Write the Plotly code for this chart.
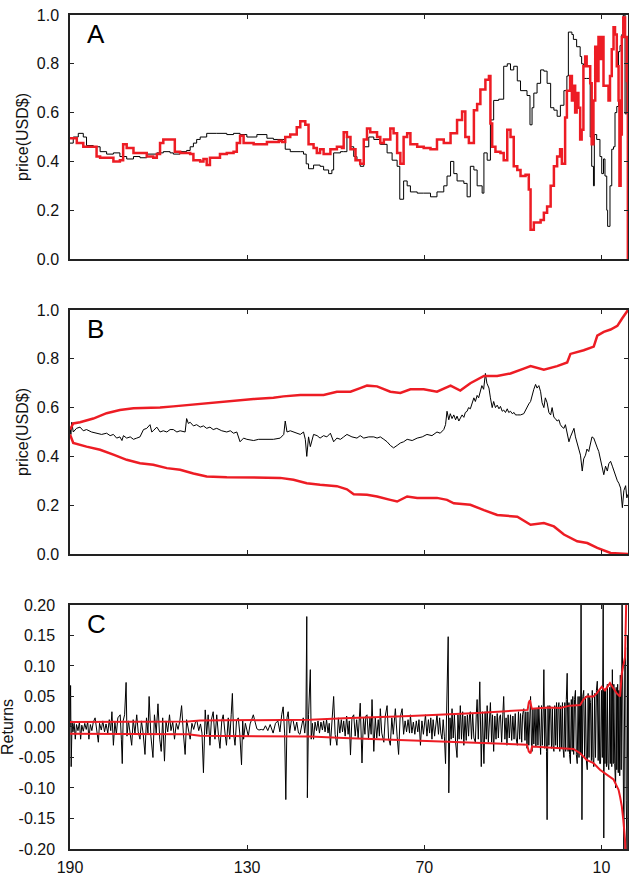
import plotly.graph_objects as go
from plotly.subplots import make_subplots

RED = "#ED1C24"
FONT = "Liberation Sans, Arial, sans-serif"

# ---------------- tick labels ----------------
x_tickvals = [190, 130, 70, 10]
x_ticktext = ["190", "130", "70", "10"]
price_tickvals = [0.0, 0.2, 0.4, 0.6, 0.8, 1.0]
price_ticktext = ["0.0", "0.2", "0.4", "0.6", "0.8", "1.0"]
ret_tickvals = [-0.2, -0.15, -0.1, -0.05, 0.0, 0.05, 0.1, 0.15, 0.2]
ret_ticktext = ["-0.20", "-0.15", "-0.10", "-0.05", "0.00", "0.05", "0.10", "0.15", "0.20"]
panel_labels = ["A", "B", "C"]
y_titles = ["price(USD$)", "price(USD$)", "Returns"]

# ---------------- Panel A: two prices (day, price) ----------------
a_black = [
    (190.0, 0.475), (188.9, 0.50), (187.2, 0.515), (185.5, 0.50), (184.4, 0.465), (182.1, 0.46),
    (179.8, 0.44), (177.6, 0.43), (175.3, 0.435), (173.1, 0.42), (170.8, 0.41), (168.5, 0.42),
    (166.3, 0.415), (164.0, 0.43), (160.6, 0.435), (158.4, 0.44), (156.1, 0.435), (155.0, 0.43),
    (152.7, 0.44), (150.5, 0.445), (149.3, 0.46), (148.2, 0.475), (147.1, 0.49), (145.9, 0.50),
    (143.7, 0.515), (140.3, 0.515), (136.9, 0.51), (134.6, 0.515), (132.4, 0.51), (130.1, 0.50),
    (126.7, 0.51), (123.3, 0.495), (121.1, 0.49), (118.2, 0.49), (117.1, 0.45), (115.4, 0.44),
    (112.0, 0.44), (110.9, 0.43), (110.0, 0.39), (109.2, 0.37), (107.5, 0.385), (105.3, 0.38),
    (104.1, 0.365), (102.4, 0.35), (101.3, 0.365), (100.7, 0.435), (98.4, 0.44), (97.3, 0.44),
    (96.2, 0.50), (95.0, 0.46), (93.9, 0.42), (92.8, 0.405), (91.7, 0.38), (90.5, 0.46),
    (88.8, 0.50), (87.1, 0.49), (84.9, 0.47), (82.6, 0.435), (80.9, 0.405), (79.2, 0.38),
    (78.3, 0.245), (77.0, 0.32), (75.8, 0.30), (74.7, 0.275), (72.4, 0.27), (70.2, 0.27),
    (67.9, 0.255), (65.7, 0.275), (63.4, 0.30), (62.3, 0.34), (61.1, 0.40), (60.0, 0.35),
    (58.9, 0.32), (56.6, 0.31), (55.5, 0.255), (54.4, 0.38), (53.2, 0.365), (52.1, 0.30),
    (50.4, 0.27), (49.8, 0.435), (48.7, 0.405), (47.6, 0.57), (46.5, 0.65), (44.8, 0.655),
    (43.1, 0.79), (41.9, 0.80), (40.8, 0.775), (39.7, 0.79), (38.5, 0.73), (37.4, 0.69),
    (35.2, 0.67), (34.2, 0.55), (33.5, 0.62), (32.9, 0.68), (31.8, 0.72), (30.6, 0.775),
    (29.5, 0.77), (28.4, 0.72), (27.2, 0.62), (26.1, 0.61), (25.0, 0.585), (23.9, 0.63),
    (22.7, 0.69), (21.7, 0.75), (21.2, 0.93), (20.0, 0.92), (19.5, 0.90), (18.4, 0.87),
    (17.2, 0.83), (16.7, 0.80), (16.1, 0.74), (15.0, 0.74), (13.8, 0.50), (13.3, 0.38),
    (12.7, 0.30), (12.4, 0.51), (11.6, 0.49), (10.5, 0.42), (9.9, 0.35), (9.3, 0.41),
    (8.8, 0.34), (8.2, 0.20), (7.9, 0.134), (7.1, 0.30), (6.5, 0.45), (5.9, 0.46),
    (5.4, 0.60), (4.8, 0.625), (4.2, 0.85), (3.7, 0.875), (3.1, 0.92), (2.6, 1.0),
    (2.0, 0.595), (1.4, 0.79), (1.0, 0.88),
]
a_red = [
    (190.0, 0.495), (187.7, 0.475), (185.5, 0.46), (182.1, 0.46), (181.0, 0.42), (179.8, 0.415),
    (176.4, 0.415), (175.3, 0.40), (173.1, 0.405), (172.0, 0.47), (170.8, 0.455), (168.5, 0.435),
    (166.3, 0.435), (164.0, 0.42), (161.8, 0.415), (160.6, 0.43), (159.5, 0.475), (158.4, 0.49),
    (155.0, 0.49), (154.5, 0.44), (152.7, 0.435), (150.5, 0.435), (149.3, 0.43), (148.2, 0.405),
    (145.9, 0.40), (144.8, 0.41), (143.7, 0.385), (142.6, 0.415), (140.3, 0.415), (139.2, 0.43),
    (136.9, 0.435), (134.6, 0.44), (133.5, 0.475), (132.4, 0.505), (131.2, 0.475), (127.8, 0.47),
    (124.4, 0.47), (123.3, 0.48), (119.3, 0.485), (118.2, 0.48), (117.1, 0.50), (115.4, 0.51),
    (113.2, 0.54), (112.0, 0.565), (110.3, 0.55), (109.2, 0.47), (107.5, 0.455), (106.4, 0.435),
    (105.3, 0.45), (104.1, 0.43), (101.8, 0.45), (99.6, 0.46), (97.9, 0.455), (97.3, 0.52),
    (96.2, 0.50), (95.0, 0.45), (93.3, 0.405), (91.7, 0.39), (90.5, 0.49), (89.4, 0.535),
    (88.3, 0.52), (86.0, 0.50), (84.9, 0.475), (83.7, 0.49), (81.5, 0.535), (80.4, 0.515),
    (79.2, 0.435), (78.1, 0.39), (77.0, 0.50), (75.8, 0.515), (74.7, 0.47), (72.4, 0.46),
    (70.2, 0.455), (67.9, 0.45), (65.7, 0.49), (63.4, 0.475), (61.1, 0.515), (58.9, 0.57),
    (57.2, 0.605), (56.1, 0.50), (54.9, 0.475), (53.2, 0.61), (52.1, 0.635), (51.0, 0.695),
    (49.3, 0.735), (48.1, 0.75), (47.6, 0.555), (47.0, 0.46), (45.9, 0.44), (44.2, 0.435),
    (43.1, 0.405), (41.9, 0.53), (40.8, 0.50), (39.7, 0.38), (38.5, 0.365), (37.4, 0.34),
    (35.7, 0.345), (34.6, 0.285), (34.0, 0.12), (32.9, 0.15), (30.6, 0.16), (29.5, 0.19),
    (28.4, 0.215), (27.2, 0.30), (26.1, 0.38), (25.0, 0.42), (24.0, 0.45), (23.4, 0.39),
    (22.3, 0.58), (21.7, 0.69), (20.6, 0.75), (20.0, 0.65), (19.5, 0.71), (18.9, 0.60),
    (18.4, 0.68), (17.8, 0.62), (17.2, 0.49), (16.7, 0.53), (16.1, 0.79), (15.5, 0.83),
    (15.0, 0.79), (13.8, 0.72), (13.3, 0.47), (12.7, 0.65), (12.1, 0.87), (11.6, 0.73),
    (11.0, 0.91), (10.5, 0.82), (9.9, 0.91), (9.3, 0.71), (8.2, 0.71), (7.6, 0.65),
    (7.1, 0.75), (6.5, 0.86), (5.9, 0.95), (5.4, 0.92), (4.8, 0.79), (4.2, 0.65),
    (3.9, 0.30), (3.5, 0.51), (3.1, 0.91), (2.6, 0.99), (2.0, 0.91), (1.4, 0.73), (1.05, 0.0),
]

# ---------------- Panel B: price with bands (day, value) ----------------
b_black = [
    (190.0, 0.52), (189.7, 0.49), (189.4, 0.54), (188.9, 0.50), (187.8, 0.515), (186.6, 0.52),
    (185.5, 0.505), (184.4, 0.51), (182.7, 0.50), (181.0, 0.495), (179.3, 0.49), (177.6, 0.495),
    (176.4, 0.485), (175.3, 0.49), (174.2, 0.475), (173.1, 0.48), (172.4, 0.465), (171.9, 0.485),
    (170.8, 0.475), (169.6, 0.48), (168.5, 0.47), (167.4, 0.475), (166.3, 0.48), (165.1, 0.51),
    (164.0, 0.515), (162.9, 0.53), (162.3, 0.50), (161.8, 0.505), (160.6, 0.52), (159.5, 0.50),
    (158.4, 0.505), (157.2, 0.50), (156.1, 0.51), (155.0, 0.51), (153.8, 0.50), (152.7, 0.505),
    (151.0, 0.50), (150.5, 0.555), (149.9, 0.535), (149.3, 0.54), (148.2, 0.525), (147.1, 0.53),
    (145.9, 0.52), (144.8, 0.525), (143.7, 0.515), (142.6, 0.52), (141.5, 0.51), (140.3, 0.515),
    (138.6, 0.505), (136.9, 0.50), (135.7, 0.505), (134.6, 0.495), (133.5, 0.50), (132.4, 0.46),
    (131.2, 0.475), (130.1, 0.47), (127.8, 0.465), (126.1, 0.47), (124.4, 0.47), (122.7, 0.468),
    (121.1, 0.47), (118.8, 0.475), (117.6, 0.49), (117.1, 0.545), (116.5, 0.50), (115.4, 0.505),
    (114.3, 0.50), (113.2, 0.495), (112.0, 0.49), (110.9, 0.50), (110.3, 0.47), (109.8, 0.40),
    (109.2, 0.48), (108.6, 0.44), (107.5, 0.49), (106.3, 0.485), (105.3, 0.475), (104.1, 0.485),
    (103.0, 0.48), (101.8, 0.495), (100.7, 0.46), (99.6, 0.475), (98.4, 0.47), (97.3, 0.48),
    (96.2, 0.49), (94.5, 0.48), (92.8, 0.475), (91.7, 0.485), (90.5, 0.475), (88.8, 0.48),
    (87.1, 0.48), (86.0, 0.475), (84.9, 0.48), (83.7, 0.47), (82.6, 0.46), (81.5, 0.445),
    (80.4, 0.435), (79.2, 0.445), (78.1, 0.455), (77.0, 0.46), (75.8, 0.47), (74.1, 0.465),
    (72.4, 0.475), (70.7, 0.48), (69.1, 0.49), (67.4, 0.485), (65.7, 0.50), (64.6, 0.495),
    (63.4, 0.51), (62.8, 0.53), (62.3, 0.585), (61.7, 0.55), (61.2, 0.575), (60.6, 0.555),
    (60.0, 0.57), (59.4, 0.55), (58.9, 0.565), (58.3, 0.545), (57.8, 0.555), (57.2, 0.57),
    (56.6, 0.56), (56.1, 0.58), (55.5, 0.585), (55.0, 0.60), (54.4, 0.595), (53.8, 0.62),
    (53.2, 0.64), (52.7, 0.625), (52.1, 0.65), (51.6, 0.64), (51.0, 0.665), (50.5, 0.69),
    (49.9, 0.675), (49.3, 0.74), (48.8, 0.70), (48.1, 0.68), (47.6, 0.64), (47.0, 0.60),
    (46.5, 0.625), (45.9, 0.60), (45.3, 0.61), (44.7, 0.595), (44.2, 0.605), (43.6, 0.585),
    (43.1, 0.59), (42.5, 0.58), (41.9, 0.595), (41.4, 0.58), (40.8, 0.585), (40.2, 0.575),
    (39.6, 0.58), (39.1, 0.57), (38.5, 0.57), (37.4, 0.57), (36.3, 0.575), (35.7, 0.59),
    (35.2, 0.60), (34.6, 0.615), (34.0, 0.625), (33.5, 0.65), (32.9, 0.675), (32.3, 0.695),
    (31.8, 0.68), (31.2, 0.69), (30.6, 0.665), (30.1, 0.62), (29.5, 0.60), (29.0, 0.64),
    (28.4, 0.62), (27.8, 0.58), (27.2, 0.57), (26.7, 0.60), (26.1, 0.56), (25.6, 0.555),
    (25.0, 0.545), (24.4, 0.55), (23.9, 0.53), (23.3, 0.52), (22.7, 0.515), (22.2, 0.53),
    (21.6, 0.49), (21.0, 0.46), (20.5, 0.48), (19.9, 0.50), (19.3, 0.515), (18.8, 0.48),
    (18.2, 0.45), (17.6, 0.43), (17.1, 0.405), (16.5, 0.34), (16.0, 0.39), (15.4, 0.405),
    (14.9, 0.43), (14.3, 0.42), (13.7, 0.45), (13.2, 0.48), (12.6, 0.475), (12.0, 0.45),
    (11.4, 0.435), (10.9, 0.42), (10.3, 0.39), (9.8, 0.36), (9.2, 0.325), (8.6, 0.36),
    (8.0, 0.34), (7.5, 0.37), (6.9, 0.38), (6.3, 0.36), (5.8, 0.34), (5.2, 0.32),
    (4.6, 0.30), (4.1, 0.29), (3.5, 0.27), (2.9, 0.19), (2.4, 0.26), (1.8, 0.28),
    (1.4, 0.23), (1.0, 0.245),
]
b_upper = [
    (190.0, 0.51), (188.9, 0.535), (186.6, 0.54), (182.1, 0.555), (177.6, 0.577), (173.1, 0.59),
    (168.5, 0.597), (164.0, 0.598), (159.5, 0.60), (155.0, 0.605), (150.5, 0.61), (146.0, 0.617),
    (139.2, 0.625), (134.6, 0.63), (127.8, 0.635), (121.1, 0.64), (117.7, 0.646), (112.0, 0.652),
    (104.1, 0.652), (99.6, 0.665), (95.0, 0.665), (91.7, 0.68), (89.4, 0.69), (86.0, 0.687),
    (81.5, 0.665), (78.1, 0.66), (74.7, 0.675), (70.2, 0.675), (65.7, 0.665), (61.1, 0.69),
    (57.8, 0.67), (54.4, 0.70), (49.8, 0.73), (45.3, 0.73), (40.8, 0.74), (36.3, 0.76),
    (34.0, 0.77), (29.5, 0.755), (25.0, 0.77), (21.6, 0.785), (20.5, 0.82), (16.0, 0.835),
    (12.6, 0.85), (11.4, 0.895), (9.2, 0.91), (6.9, 0.92), (4.6, 0.935), (3.0, 0.965), (1.0, 1.0),
]
b_lower = [
    (190.0, 0.49), (188.9, 0.455), (184.4, 0.44), (179.8, 0.427), (175.3, 0.407), (170.8, 0.386),
    (166.3, 0.372), (161.8, 0.366), (157.2, 0.352), (152.7, 0.345), (148.2, 0.33), (143.7, 0.318),
    (136.9, 0.315), (130.1, 0.315), (123.3, 0.315), (118.8, 0.312), (114.3, 0.304), (109.8, 0.29),
    (105.3, 0.284), (99.6, 0.278), (96.2, 0.265), (93.9, 0.245), (89.4, 0.243), (86.0, 0.236),
    (81.5, 0.222), (79.2, 0.215), (75.8, 0.236), (72.4, 0.23), (65.7, 0.23), (62.3, 0.222),
    (60.0, 0.208), (54.4, 0.202), (49.8, 0.18), (45.3, 0.16), (38.5, 0.153), (34.0, 0.12),
    (29.5, 0.127), (26.1, 0.113), (22.7, 0.08), (18.2, 0.052), (14.8, 0.045), (11.4, 0.025),
    (6.9, 0.004), (1.0, 0.0),
]

# ---------------- Panel C: returns with bands (day, return) ----------------
c_returns = [
    (190.0, 0.0), (189.8, 0.068), (189.6, -0.065), (189.3, 0.01), (189.0, -0.008), (188.6, 0.006),
    (188.2, -0.02), (187.8, 0.004), (187.3, -0.006), (186.8, 0.008), (186.4, -0.02), (186.0, 0.003),
    (185.5, -0.007), (185.0, 0.006), (184.5, -0.004), (184.0, 0.009), (183.6, -0.02), (183.1, 0.004),
    (182.6, -0.006), (182.1, 0.008), (181.5, 0.015), (181.0, -0.004), (180.4, -0.025), (180.0, 0.006),
    (179.4, -0.005), (178.9, 0.01), (178.3, -0.008), (177.8, 0.005), (177.2, -0.01), (176.7, 0.012),
    (176.2, -0.006), (175.8, 0.025), (175.3, -0.03), (174.8, 0.008), (174.3, -0.012), (173.8, 0.015),
    (173.0, 0.02), (172.6, -0.02), (172.3, -0.06), (172.0, 0.01), (171.5, 0.02), (171.0, 0.073),
    (170.7, -0.015), (170.2, 0.01), (169.6, -0.008), (169.1, -0.03), (168.6, 0.012), (168.0, -0.01),
    (167.4, 0.02), (166.9, -0.008), (166.3, -0.02), (165.8, 0.01), (165.2, -0.012), (164.6, -0.045),
    (164.1, 0.015), (163.6, -0.01), (163.2, 0.05), (162.6, -0.015), (161.9, -0.05), (161.4, 0.02),
    (160.8, -0.01), (160.2, 0.038), (159.6, -0.02), (159.1, -0.04), (158.6, 0.015), (158.0, -0.056),
    (157.5, 0.01), (156.9, -0.008), (156.3, 0.02), (155.8, -0.006), (155.2, 0.008), (154.6, -0.02),
    (154.0, 0.006), (153.4, -0.004), (152.8, 0.01), (152.2, 0.035), (151.6, -0.01), (151.0, -0.045),
    (150.5, 0.012), (149.9, -0.006), (149.3, -0.02), (148.7, 0.006), (148.1, -0.004), (147.5, 0.008),
    (147.0, 0.01), (146.4, -0.006), (145.8, 0.005), (145.3, -0.01), (144.8, -0.075), (144.2, 0.028),
    (143.7, -0.012), (143.2, 0.02), (142.6, -0.03), (142.1, 0.012), (141.5, 0.025), (140.9, -0.02),
    (140.3, 0.02), (139.7, -0.015), (139.2, -0.035), (138.6, 0.01), (138.1, 0.02), (137.5, -0.01),
    (137.0, -0.03), (136.4, 0.015), (135.9, -0.02), (135.4, 0.02), (135.0, 0.055), (134.6, -0.01),
    (134.1, -0.03), (133.6, 0.01), (133.0, 0.015), (132.5, -0.01), (131.9, -0.062), (131.5, 0.01),
    (131.2, -0.02), (130.6, 0.006), (130.0, -0.004), (129.6, -0.015), (129.0, 0.005), (128.4, 0.012),
    (127.9, 0.02), (127.3, 0.008), (126.7, -0.003), (126.0, -0.005), (125.2, -0.004), (124.5, -0.005),
    (123.8, 0.002), (123.0, -0.006), (122.2, 0.004), (121.2, -0.01), (120.4, 0.006), (119.6, 0.01),
    (118.9, -0.008), (118.3, 0.02), (117.8, 0.033), (117.3, -0.01), (116.9, -0.119), (116.5, 0.015),
    (116.1, 0.025), (115.6, -0.01), (115.0, 0.012), (114.4, 0.01), (113.8, -0.006), (113.2, 0.008),
    (112.6, -0.01), (112.1, -0.012), (111.5, 0.006), (111.0, 0.015), (110.5, -0.01), (110.1, 0.01),
    (109.8, 0.181), (109.6, -0.116), (109.2, 0.02), (108.6, 0.094), (108.3, -0.02), (107.9, 0.006),
    (107.5, -0.02), (107.0, 0.008), (106.5, -0.006), (106.0, 0.01), (105.5, -0.01), (105.0, 0.008),
    (104.5, -0.005), (104.1, 0.01), (103.6, -0.008), (103.1, 0.012), (102.6, -0.01), (102.2, 0.006),
    (101.8, -0.03), (101.3, 0.012), (100.7, 0.05), (100.2, -0.012), (99.6, -0.03), (99.1, 0.015),
    (98.6, -0.01), (98.1, 0.012), (97.7, -0.008), (97.3, 0.01), (96.8, -0.015), (96.3, 0.018),
    (95.8, -0.012), (95.4, 0.01), (95.0, -0.046), (94.5, 0.015), (93.9, 0.02), (93.4, -0.015),
    (92.9, 0.012), (92.4, -0.018), (92.0, 0.015), (91.7, 0.039), (91.1, -0.059), (90.6, 0.015),
    (90.1, -0.012), (89.8, 0.018), (89.4, 0.02), (88.9, -0.02), (88.4, 0.015), (88.0, -0.012),
    (87.7, 0.045), (87.1, -0.04), (86.6, 0.015), (86.1, -0.018), (85.6, 0.012), (85.2, -0.015),
    (84.9, 0.03), (84.4, -0.01), (83.7, -0.025), (83.2, 0.018), (82.6, 0.035), (82.1, -0.018),
    (81.5, -0.03), (81.0, 0.015), (80.5, -0.012), (80.1, 0.018), (79.8, 0.03), (79.2, -0.015),
    (78.7, -0.045), (78.2, 0.015), (77.5, 0.03), (77.0, -0.012), (76.5, 0.01), (76.0, -0.008),
    (75.5, 0.012), (75.0, -0.01), (74.7, 0.02), (74.2, -0.01), (73.7, 0.008), (73.2, -0.012),
    (72.7, 0.01), (72.2, -0.008), (71.8, 0.012), (71.3, -0.03), (70.8, 0.01), (70.3, -0.012),
    (69.9, 0.015), (69.6, 0.02), (69.1, -0.015), (68.6, 0.012), (68.2, -0.01), (67.8, 0.015),
    (67.4, -0.02), (67.0, 0.012), (66.5, -0.015), (66.1, 0.01), (65.7, 0.02), (65.2, -0.012),
    (64.8, 0.015), (64.4, -0.01), (64.0, -0.02), (63.6, 0.012), (63.2, -0.015), (62.8, -0.06),
    (62.4, 0.02), (61.9, 0.148), (61.7, -0.108), (61.3, 0.015), (60.9, -0.02), (60.6, 0.03),
    (60.2, -0.018), (59.8, 0.02), (59.4, -0.025), (58.9, -0.05), (58.6, 0.02), (58.2, -0.02),
    (57.8, 0.035), (57.4, -0.02), (57.0, 0.025), (56.6, -0.03), (56.2, 0.018), (55.8, -0.022),
    (55.4, 0.02), (55.0, -0.015), (54.7, 0.018), (54.4, 0.025), (54.0, -0.02), (53.6, 0.022),
    (53.2, -0.018), (52.7, -0.025), (52.4, 0.02), (52.1, 0.045), (51.7, -0.02), (51.2, 0.074),
    (50.7, -0.065), (50.3, 0.025), (49.8, -0.06), (49.4, 0.025), (49.0, -0.02), (48.7, 0.035),
    (48.3, -0.025), (47.9, 0.02), (47.6, 0.04), (47.2, -0.025), (46.9, 0.02), (46.5, -0.04),
    (46.1, 0.018), (45.7, -0.02), (45.3, 0.022), (44.9, -0.018), (44.6, 0.015), (44.2, 0.02),
    (43.8, -0.025), (43.4, 0.02), (43.1, 0.05), (42.7, -0.02), (42.3, 0.015), (42.0, -0.03),
    (41.6, 0.02), (41.2, -0.018), (40.8, 0.02), (40.4, -0.022), (40.0, 0.018), (39.6, -0.02),
    (39.2, 0.022), (38.9, -0.018), (38.5, -0.03), (38.1, 0.025), (37.7, -0.02), (37.4, 0.022),
    (37.0, -0.025), (36.7, 0.02), (36.3, 0.03), (35.9, -0.022), (35.6, 0.025), (35.2, -0.035),
    (34.9, 0.025), (34.6, -0.03), (34.3, 0.035), (34.0, 0.05), (33.7, -0.03), (33.5, -0.04),
    (33.2, 0.03), (32.9, -0.028), (32.5, 0.03), (32.2, -0.032), (31.8, 0.03), (31.5, -0.03),
    (31.2, 0.035), (30.9, -0.03), (30.6, -0.045), (30.3, 0.035), (30.0, -0.03), (29.7, 0.03),
    (29.5, 0.094), (29.2, -0.035), (28.9, 0.03), (28.6, -0.04), (28.4, -0.152), (28.1, 0.035),
    (27.8, -0.03), (27.5, 0.035), (27.2, 0.03), (26.9, -0.035), (26.6, 0.03), (26.4, -0.03),
    (26.1, -0.04), (25.8, 0.035), (25.5, -0.03), (25.2, 0.04), (24.9, -0.035), (24.7, 0.03),
    (24.4, 0.04), (24.1, -0.04), (23.8, 0.035), (23.5, -0.035), (23.2, 0.04), (23.0, -0.035),
    (22.7, -0.05), (22.4, 0.04), (22.1, -0.04), (21.9, 0.045), (21.6, 0.088), (21.3, -0.04),
    (21.0, 0.04), (20.8, -0.045), (20.5, -0.06), (20.2, 0.045), (19.9, -0.04), (19.7, 0.05),
    (19.4, -0.045), (19.1, 0.045), (18.8, 0.06), (18.5, -0.045), (18.2, -0.06), (17.9, 0.05),
    (17.6, -0.05), (17.3, 0.05), (17.1, -0.045), (16.9, 0.21), (16.6, -0.152), (16.3, 0.05),
    (16.0, 0.06), (15.7, -0.05), (15.4, 0.05), (15.1, -0.055), (14.8, -0.07), (14.5, 0.055),
    (14.2, -0.05), (14.0, 0.05), (13.7, 0.04), (13.4, -0.055), (13.1, 0.06), (12.9, -0.05),
    (12.6, -0.065), (12.3, 0.055), (12.0, -0.05), (11.7, 0.06), (11.4, 0.075), (11.1, -0.055),
    (10.8, 0.06), (10.6, -0.06), (10.3, -0.06), (10.0, 0.06), (9.7, -0.05), (9.4, 0.21),
    (9.2, -0.182), (9.0, 0.06), (8.8, -0.06), (8.6, 0.06), (8.3, -0.065), (8.0, 0.07),
    (7.8, -0.06), (7.5, -0.07), (7.2, 0.065), (7.0, -0.06), (6.7, 0.07), (6.5, -0.065),
    (6.3, 0.094), (6.0, -0.06), (5.8, 0.07), (5.5, -0.06), (5.2, -0.1), (5.0, 0.065),
    (4.8, -0.07), (4.5, 0.07), (4.3, -0.075), (4.1, 0.06), (3.8, -0.08), (3.6, 0.085),
    (3.3, -0.07), (3.0, 0.21), (2.7, -0.08), (2.4, -0.21), (2.1, 0.1), (1.8, 0.13),
    (1.6, -0.12), (1.3, -0.21), (1.1, 0.15), (1.0, -0.05),
]
c_upper = [
    (190.0, 0.008), (160.0, 0.008), (150.0, 0.009), (146.0, 0.0105), (120.0, 0.011), (108.6, 0.012),
    (97.3, 0.0145), (74.7, 0.018), (52.1, 0.023), (36.0, 0.027), (35.0, 0.028), (34.6, 0.04),
    (34.2, 0.044), (33.6, 0.03), (28.0, 0.032), (24.0, 0.031), (20.6, 0.035), (17.2, 0.036),
    (16.1, 0.045), (15.0, 0.05), (12.7, 0.05), (11.6, 0.055), (9.9, 0.066), (8.8, 0.06),
    (7.1, 0.072), (4.8, 0.055), (3.7, 0.05), (3.1, 0.088), (2.6, 0.10), (2.0, 0.115), (1.4, 0.25),
]
c_lower = [
    (190.0, -0.011), (150.0, -0.012), (146.0, -0.0145), (108.6, -0.0156), (97.3, -0.018),
    (74.7, -0.022), (52.1, -0.026), (35.2, -0.029), (34.6, -0.04), (34.0, -0.043), (33.5, -0.032),
    (24.0, -0.035), (19.5, -0.036), (17.2, -0.043), (15.0, -0.054), (12.7, -0.059), (10.5, -0.07),
    (8.2, -0.078), (5.9, -0.086), (4.8, -0.097), (4.2, -0.103), (3.7, -0.114), (3.1, -0.13),
    (2.6, -0.152), (2.0, -0.185), (1.4, -0.25),
]


def xs(pts):
    return [p[0] for p in pts]


def ys(pts):
    return [p[1] for p in pts]


fig = make_subplots(rows=3, cols=1, vertical_spacing=0.0612)

# Panel A
fig.add_trace(go.Scatter(x=xs(a_black), y=ys(a_black), mode="lines", line=dict(color="black", width=1, shape="hv")), row=1, col=1)
fig.add_trace(go.Scatter(x=xs(a_red), y=ys(a_red), mode="lines", line=dict(color=RED, width=2.5, shape="hv")), row=1, col=1)
# Panel B
fig.add_trace(go.Scatter(x=xs(b_black), y=ys(b_black), mode="lines", line=dict(color="black", width=1)), row=2, col=1)
fig.add_trace(go.Scatter(x=xs(b_upper), y=ys(b_upper), mode="lines", line=dict(color=RED, width=2.5)), row=2, col=1)
fig.add_trace(go.Scatter(x=xs(b_lower), y=ys(b_lower), mode="lines", line=dict(color=RED, width=2.5)), row=2, col=1)
# Panel C
fig.add_trace(go.Scatter(x=xs(c_returns), y=ys(c_returns), mode="lines", line=dict(color="black", width=1)), row=3, col=1)
fig.add_trace(go.Scatter(x=xs(c_upper), y=ys(c_upper), mode="lines", line=dict(color=RED, width=2)), row=3, col=1)
fig.add_trace(go.Scatter(x=xs(c_lower), y=ys(c_lower), mode="lines", line=dict(color=RED, width=2)), row=3, col=1)

axis_common = dict(
    showline=True, linecolor="#222222", linewidth=1.5, mirror="ticks",
    ticks="inside", ticklen=4, tickwidth=1.2, tickcolor="#222222",
    showgrid=False, zeroline=False, automargin=False,
    tickfont=dict(family=FONT, size=16, color="#111111"),
)

for r in (1, 2, 3):
    fig.update_xaxes(
        range=[190, 1], tickmode="array", tickvals=x_tickvals, ticktext=x_ticktext,
        showticklabels=(r == 3), ticklabelstandoff=3, row=r, col=1, **axis_common,
    )

fig.update_yaxes(range=[0, 1], tickmode="array", tickvals=price_tickvals, ticktext=price_ticktext,
                 ticklabelstandoff=6, row=1, col=1, **axis_common)
fig.update_yaxes(range=[0, 1], tickmode="array", tickvals=price_tickvals, ticktext=price_ticktext,
                 ticklabelstandoff=6, row=2, col=1, **axis_common)
fig.update_yaxes(range=[-0.2, 0.2], tickmode="array", tickvals=ret_tickvals, ticktext=ret_ticktext,
                 ticklabelstandoff=10, row=3, col=1, **axis_common)

y_domains = [[0.7074, 1.0], [0.3537, 0.6463], [0.0, 0.2926]]
fig.update_layout(
    yaxis=dict(domain=y_domains[0]),
    yaxis2=dict(domain=y_domains[1]),
    yaxis3=dict(domain=y_domains[2]),
)

title_px = [22, 22, 8]
annotations = []
for i, (lab, ttl) in enumerate(zip(panel_labels, y_titles)):
    ax = "" if i == 0 else str(i + 1)
    annotations.append(dict(
        text=lab, xref=f"x{ax} domain", yref=f"y{ax} domain", x=15 / 558, y=1 - 2 / 244,
        xanchor="left", yanchor="top", showarrow=False,
        font=dict(family=FONT, size=26, color="black"),
    ))
    annotations.append(dict(
        text=ttl, xref="paper", yref=f"y{ax} domain", x=(title_px[i] - 70) / 558, y=0.5,
        xanchor="center", yanchor="middle", textangle=-90, showarrow=False,
        font=dict(family=FONT, size=16, color="#111111"),
    ))

fig.update_layout(
    width=629, height=878,
    margin=dict(l=70, r=1, t=15, b=29, autoexpand=False),
    paper_bgcolor="white", plot_bgcolor="white",
    showlegend=False,
    annotations=annotations,
    font=dict(family=FONT),
)

fig.write_html(
    "out.html",
    config={"displayModeBar": False},
    post_script="document.body.style.margin='0px';document.body.style.padding='0px';",
)
